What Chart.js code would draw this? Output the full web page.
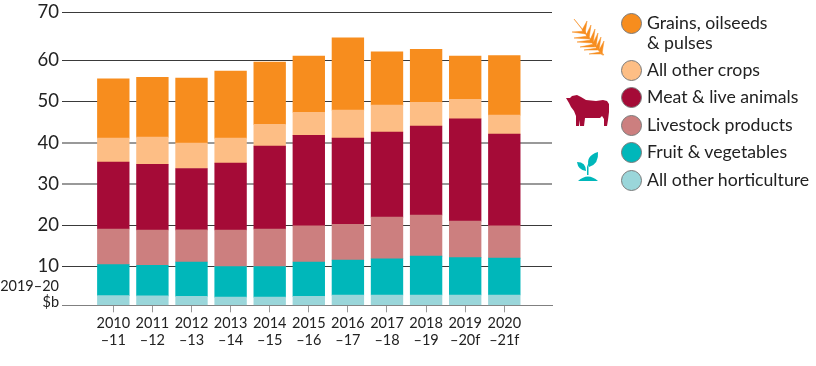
<!DOCTYPE html>
<html>
<head>
<meta charset="utf-8">
<script src="https://cdn.jsdelivr.net/npm/chart.js@4"></script>
<style>
  html, body { margin: 0; padding: 0; background: #fff; }
  #wrap { position: relative; width: 816px; height: 366px; overflow: hidden; font-family: Lato, sans-serif; color: #222; }
  #chart { position: absolute; left: 0; top: 0; }
  .dot { position: absolute; left: 621px; width: 19px; height: 19px; border-radius: 50%; border: 1px solid #7a7a7a; }
  .txt { position: absolute; left: 647px; font-size: 17.7px; line-height: 20px; white-space: nowrap; }
  svg { position: absolute; left: 0; top: 0; }
</style>
</head>
<body>
<div id="wrap">
  <canvas id="chart" width="816" height="366"></canvas>
  <svg width="816" height="366" viewBox="0 0 816 366">
    <!-- wheat -->
    <g fill="#F78D1E" stroke="#F78D1E" stroke-width="0.5" stroke-linejoin="round">
      <path d="M574 19 L604 55 L602 55 Z" fill-opacity="0.7"/>
      <path d="M587 21 L585 34 L582 30 Z M591 25 L589 39 L586 35 Z M595 29 L593 44 L590 40 Z M598 33 L596 47 L593 43 Z M601 37 L599 50 L596 47 Z M604 41 L602 54 L599 50 Z"/>
      <path d="M572 32 L585 31 L586 34 Z M574 38 L588 36 L589 39 Z M577 42 L591 40 L592 43 Z M580 47 L594 44 L595 47 Z M584 50 L597 48 L598 50 Z M589 54 L600 52 L601 54 Z"/>
    </g>
    <!-- cow -->
    <path fill="#A50B37" d="M566 98 L570 98 L572 96 L577 95 L581 97 L586 100 L596 101 L603 100 L607 101 L609 104 L609 112 L608 120 L607 126 L604 126 L604 119 L602 116 L600 118 L592 118 L585 118 L584 126 L580 126 L580 120 L579 126 L576 126 L576 116 L574 111 L571 107 L569 103 Z"/>
    <!-- sprout -->
    <g fill="#00B7BA">
      <path d="M578 181 Q588 172 598 181 Z"/>
      <path d="M587 175 L587 167 Q587 164 590 162 L591 163 Q588 165 588.5 168 L588.5 175 Z"/>
      <path d="M589 167 Q585 156 598 152 Q599 164 589 167 Z"/>
      <path d="M586 171 Q578 170 577 162 Q586 162 586 171 Z"/>
    </g>
  </svg>
  <div id="legend"></div>
</div>
<script>
var categories = [
    ['2010', '\u201311'], ['2011', '\u201312'], ['2012', '\u201313'], ['2013', '\u201314'],
    ['2014', '\u201315'], ['2015', '\u201316'], ['2016', '\u201317'], ['2017', '\u201318'],
    ['2018', '\u201319'], ['2019', '\u201320f'], ['2020', '\u201321f']
];
var otherHorticulture = [2.5, 2.4, 2.3, 2.1, 2.1, 2.3, 2.6, 2.65, 2.65, 2.65, 2.65];
var fruitVegetables   = [7.9, 7.85, 8.75, 7.8, 7.8, 8.75, 8.9, 9.2, 9.85, 9.45, 9.35];
var livestockProducts = [8.7, 8.6, 7.85, 8.95, 9.2, 8.8, 8.75, 10.15, 10.0, 8.9, 7.9];
var meatAnimals       = [16.3, 16.0, 14.9, 16.25, 20.2, 22.0, 20.95, 20.65, 21.6, 24.8, 22.25];
var otherCrops        = [5.8, 6.6, 6.2, 6.1, 5.2, 5.55, 6.7, 6.45, 5.7, 4.7, 4.55];
var grains            = [14.3, 14.4, 15.7, 16.2, 15.1, 13.5, 16.8, 12.7, 12.5, 10.4, 14.3];
var yTicks = [0, 10, 20, 30, 40, 50, 60, 70];
var unitLabel = ['2019\u201320', '$b'];

var orange = '#F78D1E', peach = '#FDBE85', crimson = '#A50B37',
    pink = '#CC7F7F', teal = '#00B7BA', paleTeal = '#9AD6DA';

// the printed axis is not evenly spaced, so each tick gets its own height (share of the axis)
var tickShare = [0, 0.1332, 0.2732, 0.4139, 0.5540, 0.6963, 0.8367, 1];

class PrintedScale extends Chart.LinearScale {
    getPixelForValue(value) {
        var i = Math.min(Math.max(Math.floor(value / 10), 0), tickShare.length - 2);
        var share = tickShare[i] + (tickShare[i + 1] - tickShare[i]) * (value - yTicks[i]) / 10;
        return this.bottom - share * (this.bottom - this.top);
    }
}
PrintedScale.id = 'printed';
PrintedScale.defaults = Chart.LinearScale.defaults;
Chart.register(PrintedScale);

function series(label, values, color) {
    return {
        label: label,
        data: values.map(function (v, i) { return {x: i, y: v}; }),
        backgroundColor: color,
        barThickness: 31.7
    };
}

// "2019-20 / $b" sits above the zero line in place of a 0 label
var unitPlugin = {
    id: 'unitLabel',
    afterDraw: function (chart) {
        var ctx = chart.ctx;
        ctx.save();
        ctx.font = '14.5px Lato';
        ctx.fillStyle = '#222';
        ctx.textAlign = 'right';
        ctx.textBaseline = 'middle';
        ctx.fillText(unitLabel[0], 59, 286);
        ctx.fillText(unitLabel[1], 59, 302);
        ctx.restore();
    }
};

var ctx = document.getElementById('chart').getContext('2d');
new Chart(ctx, {
    type: 'bar',
    data: {
        datasets: [
            series('All other horticulture', otherHorticulture, paleTeal),
            series('Fruit & vegetables', fruitVegetables, teal),
            series('Livestock products', livestockProducts, pink),
            series('Meat & live animals', meatAnimals, crimson),
            series('All other crops', otherCrops, peach),
            series('Grains, oilseeds & pulses', grains, orange)
        ]
    },
    plugins: [unitPlugin],
    options: {
        responsive: false,
        animation: false,
        layout: {autoPadding: false, padding: {top: 12.5, right: 264, left: 0, bottom: 0}},
        plugins: {legend: {display: false}, tooltip: {enabled: false}},
        scales: {
            x: {
                type: 'linear',
                offset: false,
                stacked: true,
                min: -1.312,
                max: 11.22,
                afterBuildTicks: function (scale) {
                    scale.ticks = categories.map(function (c, i) { return {value: i}; });
                },
                afterFit: function (scale) { scale.height = 60.7; },
                grid: {offset: false, drawOnChartArea: false, drawTicks: true, tickLength: 7, color: '#999'},
                border: {color: '#808080'},
                ticks: {
                    autoSkip: false,
                    maxRotation: 0,
                    padding: 3,
                    color: '#222',
                    font: {family: 'Lato', size: 14.5, lineHeight: 1.17},
                    callback: function (value) { return categories[value]; }
                }
            },
            y: {
                type: 'printed',
                stacked: true,
                min: 0,
                max: 70,
                afterBuildTicks: function (scale) {
                    scale.ticks = yTicks.map(function (v) { return {value: v}; });
                },
                afterFit: function (scale) {
                    scale.width = 62;
                    scale.paddingTop = 0;
                    scale.paddingBottom = 0;
                },
                grid: {
                    drawTicks: false,
                    color: function (c) {
                        if (c.tick.value === 0) return 'rgba(0,0,0,0)';
                        return c.tick.value === 30 || c.tick.value === 40 ? '#999' : '#3a3a3a';
                    },
                    lineWidth: function (c) { return c.tick.value === 30 || c.tick.value === 40 ? 2 : 1; }
                },
                border: {display: false},
                ticks: {
                    padding: 3,
                    color: '#222',
                    font: {family: 'Lato', size: 18.5},
                    callback: function (value) { return value === 0 ? '' : String(value); }
                }
            }
        }
    }
});

// legend, laid out by hand because the first entry wraps
var legendRows = [
    {color: orange, y: 23, lines: ['Grains, oilseeds', '& pulses']},
    {color: peach, y: 70, lines: ['All other crops']},
    {color: crimson, y: 97, lines: ['Meat & live animals']},
    {color: pink, y: 125, lines: ['Livestock products']},
    {color: teal, y: 152, lines: ['Fruit & vegetables']},
    {color: paleTeal, y: 180, lines: ['All other horticulture']}
];
var legend = document.getElementById('legend');
legendRows.forEach(function (row) {
    var dot = document.createElement('div');
    dot.className = 'dot';
    dot.style.top = (row.y - 10) + 'px';
    dot.style.background = row.color;
    legend.appendChild(dot);
    row.lines.forEach(function (line, i) {
        var t = document.createElement('div');
        t.className = 'txt';
        t.style.top = (row.y - 10 + i * 20) + 'px';
        t.textContent = line;
        legend.appendChild(t);
    });
});
</script>
</body>
</html>
